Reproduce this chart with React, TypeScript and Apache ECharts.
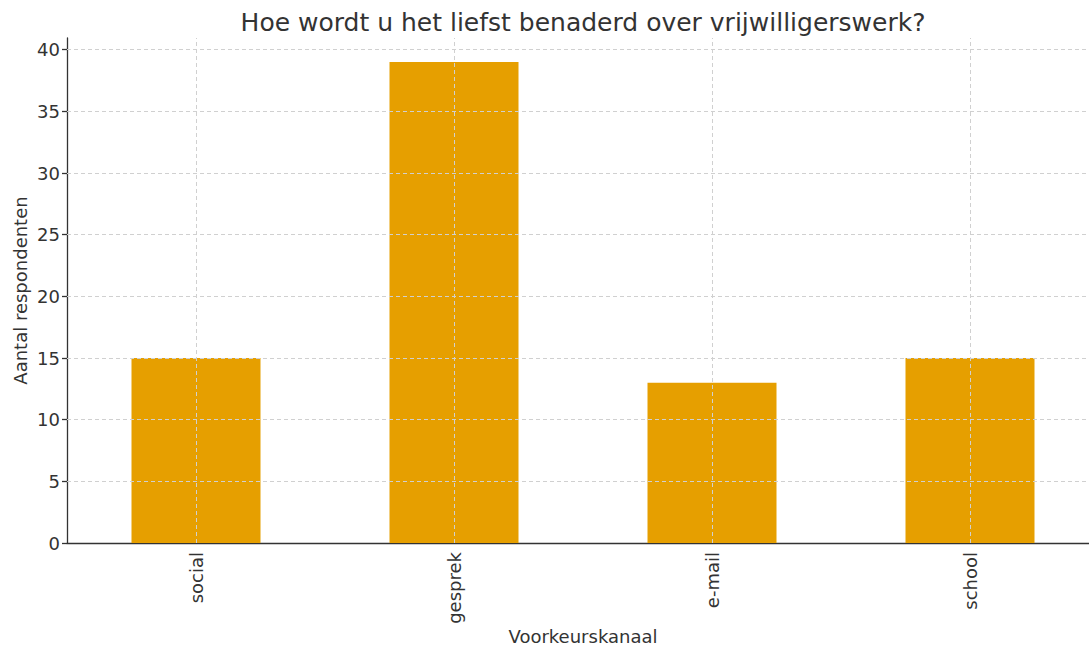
import React, { useEffect, useRef } from "react";
import * as echarts from "echarts";

const categories = ["social", "gesprek", "e-mail", "school"];
const values = [15, 39, 13, 15];
const yTicks = [0, 5, 10, 15, 20, 25, 30, 35, 40];
const titleText = "Hoe wordt u het liefst benaderd over vrijwilligerswerk?";
const xName = "Voorkeurskanaal";
const yName = "Aantal respondenten";

const FONT = "DejaVu Sans";
const TEXT = "#333333";
const GRID = "#d0d0d0";

export default function App() {
  const ref = useRef<HTMLDivElement>(null);
  useEffect(() => {
    document.body.style.margin = "0";
    const chart = echarts.init(ref.current!, null, { renderer: "svg" });
    const gridLines = [
      ...yTicks.filter((t) => t > 0).map((t) => ({ yAxis: t })),
      ...categories.map((c) => ({ xAxis: c })),
    ];
    chart.setOption({
      animation: false,
      backgroundColor: "#ffffff",
      title: {
        text: titleText,
        left: 578,
        textAlign: "center",
        top: 5,
        textStyle: { fontFamily: FONT, fontSize: 25, fontWeight: "normal", color: TEXT },
      },
      grid: {
        left: 67,
        right: 0,
        top: 38,
        bottom: 105,
        containLabel: false,
        outerBoundsMode: "none",
      },
      xAxis: {
        type: "category",
        data: categories,
        boundaryGap: true,
        name: xName,
        nameLocation: "middle",
        nameGap: 84,
        nameMoveOverlap: false,
        nameTextStyle: { fontFamily: FONT, fontSize: 18, color: TEXT },
        axisLine: { lineStyle: { color: TEXT, width: 1.3 } },
        axisTick: { alignWithLabel: true, length: 5, lineStyle: { color: TEXT, width: 1.3 } },
        axisLabel: { rotate: 90, fontFamily: FONT, fontSize: 18, color: TEXT, margin: 9 },
        splitLine: { show: false },
      },
      yAxis: {
        type: "value",
        min: 0,
        max: 40.95,
        interval: 5,
        name: yName,
        nameLocation: "middle",
        nameGap: 38,
        nameMoveOverlap: false,
        nameTextStyle: { fontFamily: FONT, fontSize: 18, color: TEXT },
        axisLine: { show: true, lineStyle: { color: TEXT, width: 1.3 } },
        axisTick: {
          show: true,
          length: 5,
          customValues: yTicks,
          lineStyle: { color: TEXT, width: 1.3 },
        },
        axisLabel: {
          fontFamily: FONT,
          fontSize: 18,
          color: TEXT,
          margin: 7,
          customValues: yTicks,
          formatter: (v: number) => (yTicks.includes(v) ? String(v) : ""),
        },
        splitLine: { show: false },
      },
      series: [
        {
          type: "bar",
          data: values,
          barWidth: "50%",
          itemStyle: { color: "#E69F00" },
          z: 2,
        },
        {
          type: "line",
          data: [],
          z: 5,
          silent: true,
          markLine: {
            silent: true,
            symbol: ["none", "none"],
            label: { show: false },
            lineStyle: { color: GRID, type: [4, 3], width: 1 },
            data: gridLines,
          },
        },
      ],
    });
    return () => chart.dispose();
  }, []);
  return (
    <div style={{ width: 1089, height: 648, overflow: "hidden" }}>
      <div ref={ref} style={{ width: 1099, height: 648 }} />
    </div>
  );
}
